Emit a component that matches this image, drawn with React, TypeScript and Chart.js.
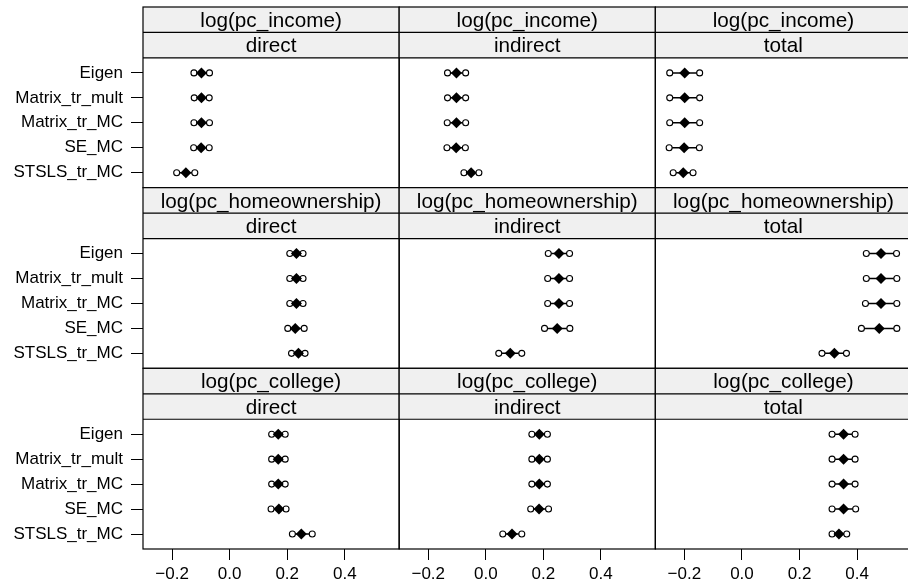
import React, { useEffect, useRef } from "react";
import { Chart, registerables } from "chart.js";

Chart.register(...registerables);

// ---- data ----
const methods = ["Eigen", "Matrix_tr_mult", "Matrix_tr_MC", "SE_MC", "STSLS_tr_MC"];
const variables = ["log(pc_income)", "log(pc_homeownership)", "log(pc_college)"];
const effects = ["direct", "indirect", "total"];
const xTickValues = [-0.2, 0.0, 0.2, 0.4];

// each: [direct[], indirect[], total[]] over methods
const incomeEst = [
  [-0.098, -0.098, -0.098, -0.099, -0.152],
  [-0.102, -0.102, -0.102, -0.103, -0.051],
  [-0.199, -0.199, -0.199, -0.201, -0.204],
];
const incomeLower = [
  [-0.124, -0.123, -0.124, -0.125, -0.184],
  [-0.133, -0.133, -0.134, -0.135, -0.076],
  [-0.251, -0.251, -0.251, -0.253, -0.239],
];
const incomeUpper = [
  [-0.070, -0.071, -0.070, -0.071, -0.121],
  [-0.070, -0.070, -0.070, -0.071, -0.024],
  [-0.147, -0.147, -0.147, -0.148, -0.170],
];

const homeEst = [
  [0.232, 0.232, 0.232, 0.228, 0.239],
  [0.254, 0.254, 0.254, 0.248, 0.085],
  [0.483, 0.483, 0.483, 0.477, 0.321],
];
const homeLower = [
  [0.209, 0.209, 0.209, 0.202, 0.215],
  [0.217, 0.215, 0.215, 0.204, 0.045],
  [0.432, 0.432, 0.429, 0.415, 0.278],
];
const homeUpper = [
  [0.255, 0.255, 0.255, 0.259, 0.262],
  [0.291, 0.291, 0.291, 0.292, 0.125],
  [0.537, 0.538, 0.538, 0.538, 0.363],
];

const collegeEst = [
  [0.169, 0.169, 0.169, 0.171, 0.249],
  [0.186, 0.186, 0.186, 0.185, 0.091],
  [0.353, 0.353, 0.353, 0.353, 0.337],
];
const collegeLower = [
  [0.146, 0.146, 0.146, 0.144, 0.218],
  [0.160, 0.160, 0.160, 0.156, 0.059],
  [0.313, 0.313, 0.313, 0.313, 0.313],
];
const collegeUpper = [
  [0.193, 0.193, 0.193, 0.196, 0.287],
  [0.214, 0.214, 0.214, 0.218, 0.125],
  [0.393, 0.393, 0.393, 0.395, 0.364],
];

// ---- layout / style ----
const CANVAS_W = 917;
const CANVAS_H = 586;
const FONT = '"Liberation Sans", Arial, Helvetica, sans-serif';
const STRIP_UNITS = 2.04;
const X_MIN = -0.301;
const X_MAX = 0.589;

const fmt = (v: number) => {
  const s = Math.abs(v).toFixed(1);
  return v < -1e-9 ? "\u2212" + s : s;
};

const panelPlugin = {
  id: "latticePanels",
  afterDraw(chart: any) {
    const ctx = chart.ctx as CanvasRenderingContext2D;
    ctx.save();
    for (let r = 0; r < 3; r++) {
      const ys = chart.scales["y" + r];
      const top = ys.top;
      const bottom = ys.bottom;
      const bodyTop = ys.getPixelForValue(0.4);
      const mid = (top + bodyTop) / 2;
      for (let c = 0; c < 3; c++) {
        const xs = chart.scales["x" + c];
        const left = xs.left;
        const right = xs.right;
        ctx.fillStyle = "#f0f0f0";
        ctx.fillRect(left, top, right - left, bodyTop - top);
        ctx.fillStyle = "#000";
        ctx.font = `20.7px ${FONT}`;
        ctx.textAlign = "center";
        ctx.textBaseline = "alphabetic";
        const cx = (left + right) / 2;
        ctx.fillText(variables[r], cx, (top + mid) / 2 + 7.3);
        ctx.fillText(effects[c], cx, (mid + bodyTop) / 2 + 7.3);
        ctx.strokeStyle = "#000";
        ctx.lineWidth = 1.2;
        ctx.strokeRect(left, top, right - left, bottom - top);
        ctx.beginPath();
        ctx.moveTo(left, mid);
        ctx.lineTo(right, mid);
        ctx.moveTo(left, bodyTop);
        ctx.lineTo(right, bodyTop);
        ctx.stroke();
      }
    }
    ctx.restore();
  },
};

export default function App() {
  const ref = useRef<HTMLCanvasElement>(null);

  useEffect(() => {
    const est = [incomeEst, homeEst, collegeEst];
    const lower = [incomeLower, homeLower, collegeLower];
    const upper = [incomeUpper, homeUpper, collegeUpper];

    const datasets: any[] = [];
    for (let r = 0; r < 3; r++) {
      for (let c = 0; c < 3; c++) {
        datasets.push({
          type: "scatter",
          order: 0,
          data: est[r][c].map((v, m) => ({ x: v, y: m + 1 })),
          xAxisID: "x" + c,
          yAxisID: "y" + r,
          pointStyle: "rectRot",
          pointRadius: 5.5,
          pointBackgroundColor: "#000",
          pointBorderColor: "#000",
          pointBorderWidth: 0,
        });
        for (let m = 0; m < methods.length; m++) {
          datasets.push({
            type: "line",
            order: 1,
            data: [
              { x: lower[r][c][m], y: m + 1 },
              { x: upper[r][c][m], y: m + 1 },
            ],
            xAxisID: "x" + c,
            yAxisID: "y" + r,
            borderColor: "#000",
            borderWidth: 1.5,
            fill: false,
            pointStyle: "circle",
            pointRadius: 3,
            pointBackgroundColor: "#fff",
            pointBorderColor: "#000",
            pointBorderWidth: 1.1,
          });
        }
      }
    }

    const scales: any = {};
    for (let c = 0; c < 3; c++) {
      scales["x" + c] = {
        type: "linear",
        position: "bottom",
        stack: "xstack",
        stackWeight: 1,
        min: X_MIN,
        max: X_MAX,
        bounds: "data",
        afterBuildTicks: (s: any) => {
          s.ticks = xTickValues.map((v) => ({ value: v }));
        },
        afterFit: (s: any) => {
          s.height = 37;
          s.paddingLeft = 0;
          s.paddingRight = 0;
        },
        ticks: {
          callback: (v: any) => fmt(Number(v)),
          font: { family: FONT, size: 17 },
          color: "#000",
          padding: 4,
          maxRotation: 0,
          autoSkip: false,
        },
        grid: {
          drawOnChartArea: false,
          drawTicks: true,
          tickLength: 11,
          color: "#000",
          lineWidth: 1,
        },
        border: { display: false },
      };
    }
    // left stacked axes are placed in reverse order: insert bottom row first
    for (let r = 2; r >= 0; r--) {
      scales["y" + r] = {
        type: "linear",
        position: "left",
        stack: "ystack",
        stackWeight: 1,
        reverse: true,
        min: 0.4 - STRIP_UNITS,
        max: methods.length + 0.6,
        bounds: "data",
        afterBuildTicks: (s: any) => {
          s.ticks = methods.map((_, i) => ({ value: i + 1 }));
        },
        afterFit: (s: any) => {
          s.width = 143;
          s.paddingTop = 0;
          s.paddingBottom = 0;
        },
        ticks: {
          callback: (v: any) => methods[Math.round(Number(v)) - 1] ?? "",
          font: { family: FONT, size: 17 },
          color: "#000",
          padding: 8,
          autoSkip: false,
        },
        grid: {
          drawOnChartArea: false,
          drawTicks: true,
          tickLength: 12,
          color: "#000",
          lineWidth: 1,
        },
        border: { display: false },
      };
    }

    const chart = new Chart(ref.current as HTMLCanvasElement, {
      type: "scatter",
      data: { datasets },
      options: {
        responsive: false,
        animation: false,
        devicePixelRatio: 1,
        layout: { padding: { top: 7, left: 0, right: 0, bottom: 0 } },
        plugins: {
          legend: { display: false },
          tooltip: { enabled: false },
          title: { display: false },
        },
        scales,
      },
      plugins: [panelPlugin],
    } as any);

    return () => chart.destroy();
  }, []);

  return (
    <div
      style={{
        position: "fixed",
        left: 0,
        top: 0,
        width: 908,
        height: 586,
        overflow: "hidden",
        background: "#fff",
      }}
    >
      <canvas
        ref={ref}
        width={CANVAS_W}
        height={CANVAS_H}
        style={{ display: "block", width: CANVAS_W, height: CANVAS_H }}
      />
    </div>
  );
}
